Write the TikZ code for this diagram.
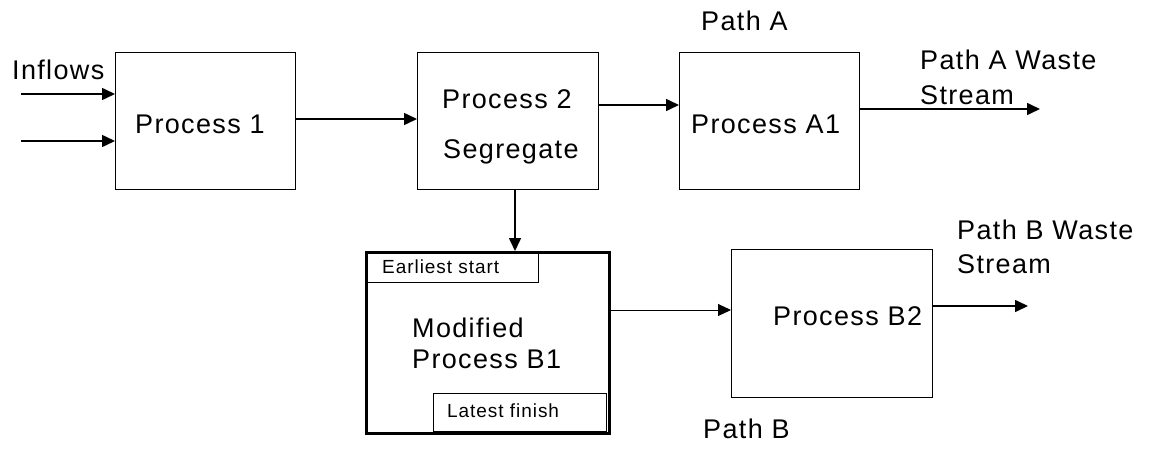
\documentclass[tikz,border=0pt]{standalone}
\usepackage{fontspec}
\setmainfont{Liberation Sans}[LetterSpace=5]
\usetikzlibrary{arrows.meta}
\tikzset{
  box/.style={draw, line width=1.4pt, inner sep=0pt, anchor=north west},
  bigbox/.style={draw, line width=3pt, inner sep=0pt, anchor=north west},
  tagbox/.style={draw, line width=1.4pt, inner sep=0pt, anchor=north west},
  lbl/.style={anchor=base west, inner sep=0pt, font=\fontsize{27}{31}\selectfont},
  small/.style={anchor=base west, inner sep=0pt, font=\fontsize{19}{23}\selectfont},
  flow/.style={line width=1.6pt, -{Triangle[length=13pt,width=12pt]}},
  thinflow/.style={line width=1pt, -{Triangle[length=13pt,width=12pt]}}
}
\begin{document}
\begin{tikzpicture}[x=1pt,y=-1pt]
\useasboundingbox (0,0) rectangle (1154,452);

% process boxes
\node[box, minimum width=180pt, minimum height=137pt] (p1) at (115,52) {};
\node[box, minimum width=181pt, minimum height=137pt] (p2) at (417,52) {};
\node[box, minimum width=180pt, minimum height=137pt] (a1) at (679,52) {};
\node[bigbox, minimum width=243pt, minimum height=181pt] (b1) at (365,251) {};
\node[box, minimum width=201pt, minimum height=148pt] (b2) at (731,249) {};

% timing tags inside the modified process
\node[tagbox, minimum width=171pt, minimum height=31pt] (es) at (367,251) {};
\node[tagbox, minimum width=173pt, minimum height=38pt] (lf) at (433,393) {};

% labels
\node[lbl] (tin) at (12,79) {Inflows};
\node[lbl] (t1) at (135,133) {Process 1};
\node[lbl] (t2a) at (442,108) {Process 2};
\node[lbl] (t2b) at (443,158) {Segregate};
\node[lbl] (tpa) at (701,31) {Path A};
\node[lbl] (ta1) at (691,133) {Process A1};
\node[lbl] (twa1) at (920,70) {Path A Waste};
\node[lbl] (twa2) at (920,104) {Stream};
\node[small] (tes) at (382,273) {Earliest start};
\node[lbl] (tb1a) at (412,337) {Modified};
\node[lbl] (tb1b) at (412,368) {Process B1};
\node[small] (tlf) at (447,417) {Latest finish};
\node[lbl] (tb2) at (773,325) {Process B2};
\node[lbl] (twb1) at (957,239) {Path B Waste};
\node[lbl] (twb2) at (957,273) {Stream};
\node[lbl] (tpb) at (703,438) {Path B};

% free ends of the open connectors
\coordinate (in1) at (21,94);
\coordinate (in2) at (21,141);
\coordinate (outa) at (1040,109);
\coordinate (outb) at (1028,306);

% connectors
\draw[flow] (in1) -- (p1.west |- in1);
\draw[flow] (in2) -- (p1.west |- in2);
\draw[flow] (p1.east |- 0,119) -- (p2.west |- 0,119);
\draw[flow] (p2.east |- 0,105) -- (a1.west |- 0,105);
\draw[flow] (a1.east |- outa) -- (outa);
\draw[flow] (p2.south -| 515,0) -- (b1.north -| 515,0);
\draw[thinflow] (b1.east |- 0,310) -- (b2.west |- 0,310);
\draw[flow] (b2.east |- outb) -- (outb);
\end{tikzpicture}
\end{document}
